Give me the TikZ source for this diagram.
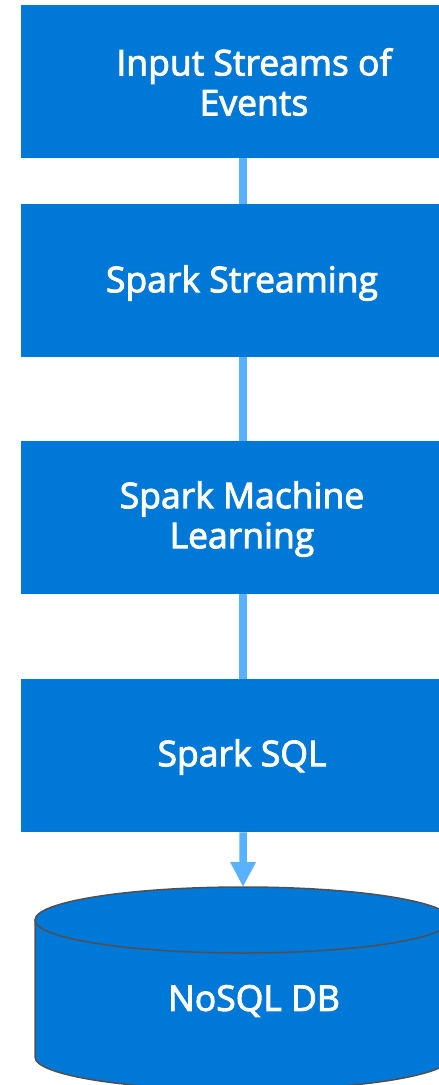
\documentclass[tikz,border=0pt]{standalone}
\usepackage{fontspec}
\setmainfont{Open Sans}[FakeBold=2.6]
\usetikzlibrary{arrows.meta}
\definecolor{boxblue}{HTML}{0078D7}
\definecolor{linkblue}{HTML}{58B2FF}
\definecolor{edgegrey}{HTML}{505050}
\tikzset{
  x=1pt, y=-1pt,
  stagebox/.style={fill=boxblue, draw=none, minimum width=444pt, minimum height=153pt, inner sep=0pt, anchor=north west},
  lbl/.style={text=white, font=\fontsize{35.5}{40}\selectfont, align=center, inner sep=0pt},
  link/.style={draw=linkblue, line width=7.5pt},
}
\begin{document}
\begin{tikzpicture}
\useasboundingbox (0,0) rectangle (439,1085);
\clip (0,0) rectangle (439,1085);
\node[stagebox] (b1) at (21,5) {};
\node[stagebox] (b2) at (21,204) {};
\node[stagebox] (b3) at (21,441) {};
\node[stagebox] (b4) at (21,679) {};
\node[lbl] (t1) at (254,82) {Input Streams of\\Events};
\node[lbl] (t2) at (242,283) {Spark Streaming};
\node[lbl] (t3) at (242,519) {Spark Machine\\Learning};
\node[lbl] (t4) at (242,757) {Spark SQL};
% cylinder
\fill[boxblue] (35,920) -- (35,1057) arc[start angle=180, end angle=0, x radius=208, y radius=33] -- (451,920) arc[start angle=360, end angle=180, x radius=208, y radius=33] -- cycle;
\draw[edgegrey, line width=1.5pt] (35,920) -- (35,1057) arc[start angle=180, end angle=0, x radius=208, y radius=33] -- (451,920);
\draw[edgegrey, line width=1.5pt] (243,920) ellipse[x radius=208, y radius=33];
\coordinate (dbtop) at (243,887);
\node[lbl] (t5) at (254,1001) {NoSQL DB};
\draw[link] (b1.south) -- (b2.north);
\draw[link] (b2.south) -- (b3.north);
\draw[link] (b3.south) -- (b4.north);
\draw[link, -{Triangle[width=24pt, length=25pt]}, linkblue] (b4.south) -- (dbtop);
\end{tikzpicture}
\end{document}
